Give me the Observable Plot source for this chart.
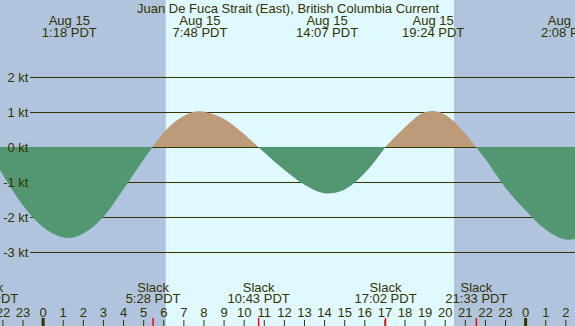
<!DOCTYPE html>
<html>
<head>
<meta charset="utf-8">
<script src="https://cdn.jsdelivr.net/npm/d3@7"></script>
<script src="https://cdn.jsdelivr.net/npm/@observablehq/plot@0.6"></script>
<style>
  html, body { margin: 0; padding: 0; overflow: hidden; background: #ffffff; }
  svg { overflow: hidden; }
</style>
</head>
<body>
<div id="chart"></div>
<script>
// ---- data ----
const title = "Juan De Fuca Strait (East), British Columbia Current";

// current speed samples (hours since midnight Aug 15, knots)
const sampleT = [-2.78, -2, -1, 0, 1, 1.3, 2, 3, 4, 5, 5.47, 6, 7, 7.8, 8, 9, 10, 10.72, 11, 12, 13, 14, 14.12, 15, 16, 17.05, 18, 19, 19.4, 20, 21, 21.55, 22, 23, 24, 25, 26, 26.13, 26.6];
const sampleV = [0, -0.77, -1.65, -2.28, -2.58, -2.60, -2.48, -2.01, -1.22, -0.38, 0, 0.40, 0.88, 1.02, 1.01, 0.81, 0.38, 0, -0.14, -0.64, -1.07, -1.32, -1.33, -1.22, -0.76, 0, 0.55, 0.99, 1.03, 0.93, 0.40, 0, -0.33, -1.15, -1.80, -2.35, -2.64, -2.65, -2.62];

// max flood / ebb events
const maxTimes = [1.30, 7.80, 14.12, 19.40, 26.13];
const maxDates = ["Aug 15", "Aug 15", "Aug 15", "Aug 15", "Aug 16"];
const maxClock = ["1:18 PDT", "7:48 PDT", "14:07 PDT", "19:24 PDT", "2:08 PDT"];

// slack events
const slackTimes = [-2.78, 5.47, 10.72, 17.03, 21.55];
const slackClock = ["21:13 PDT", "5:28 PDT", "10:43 PDT", "17:02 PDT", "21:33 PDT"];

// night / day
const nightStart = [-2.12, 20.46];
const nightEnd = [6.13, 26.48];
const dayStart = [6.13];
const dayEnd = [20.46];

// axes
const yTicks = [2, 1, 0, -1, -2, -3];
const hourTicks = d3.range(-2, 27);
const hourLabels = hourTicks.map(h => String((h + 24) % 24));
const midnights = [0, 24];

// ---- build tables ----
const pts = [];
let seg = 0;
sampleT.forEach((t, i) => {
  const v = sampleV[i];
  pts.push({t, v, seg});
  if (v === 0 && i > 0 && i < sampleT.length - 1) { seg++; pts.push({t, v, seg}); }
});
const segSign = {};
pts.forEach(p => { if (p.v !== 0) segSign[p.seg] = Math.sign(p.v); });
const ebb = pts.filter(p => segSign[p.seg] < 0);
const flood = pts.filter(p => segSign[p.seg] > 0);

const nights = nightStart.map((s, i) => ({x1: s, x2: nightEnd[i]}));
const days = dayStart.map((s, i) => ({x1: s, x2: dayEnd[i]}));
const maxEvents = maxTimes.map((t, i) => ({t, date: maxDates[i], clock: maxClock[i]}));
const slackEvents = slackTimes.map((t, i) => ({t, clock: slackClock[i]}));
const hours = hourTicks.map((h, i) => ({h, label: hourLabels[i]}));

const ink = "#333300";

const chart = Plot.plot({
  width: 575,
  height: 326,
  margin: 0,
  x: {domain: [-2.12, 26.48], axis: null},
  y: {domain: [-5.1143, 4.2], axis: null},
  style: {fontFamily: "Liberation Sans, Arial, sans-serif", fontSize: "13px", color: ink, background: "none"},
  marks: [
    Plot.rect(nights, {x1: "x1", x2: "x2", fill: "#b0c4de"}),
    Plot.rect(days, {x1: "x1", x2: "x2", fill: "#e0f8ff"}),
    Plot.ruleY(yTicks, {y: d => d, stroke: ink, strokeWidth: 1, insetLeft: 30}),
    Plot.areaY(ebb, {x: "t", y1: 0, y2: "v", z: "seg", fill: "#529672", curve: "monotone-x", clip: true}),
    Plot.areaY(flood, {x: "t", y1: 0, y2: "v", z: "seg", fill: "#bd9a78", curve: "monotone-x", clip: true}),
    Plot.text(yTicks, {y: d => d, text: d => `${d} kt`, frameAnchor: "left", dx: 28, textAnchor: "end", fill: ink}),
    Plot.text([title], {text: d => d, frameAnchor: "top", dy: 12, lineAnchor: "bottom", fill: ink}),
    Plot.text(maxEvents, {x: "t", text: "date", frameAnchor: "top", dy: 24, lineAnchor: "bottom", fill: ink}),
    Plot.text(maxEvents, {x: "t", text: "clock", frameAnchor: "top", dy: 36, lineAnchor: "bottom", fill: ink}),
    Plot.text(slackEvents, {x: "t", text: () => "Slack", frameAnchor: "bottom", dy: -35, lineAnchor: "bottom", fill: ink}),
    Plot.text(slackEvents, {x: "t", text: "clock", frameAnchor: "bottom", dy: -24, lineAnchor: "bottom", fill: ink}),
    Plot.text(hours, {x: "h", text: "label", frameAnchor: "bottom", dy: -10, lineAnchor: "bottom", fill: ink}),
    Plot.ruleX(hours.filter(d => !midnights.includes(d.h)), {x: "h", stroke: ink, insetTop: 320}),
    Plot.ruleX(midnights, {x: d => d, stroke: ink, strokeWidth: 3, insetTop: 318}),
    Plot.ruleX(slackTimes, {x: d => d, stroke: "#ff0000", strokeWidth: 1.5, insetTop: 318})
  ]
});
document.getElementById("chart").appendChild(chart);
</script>
</body>
</html>
